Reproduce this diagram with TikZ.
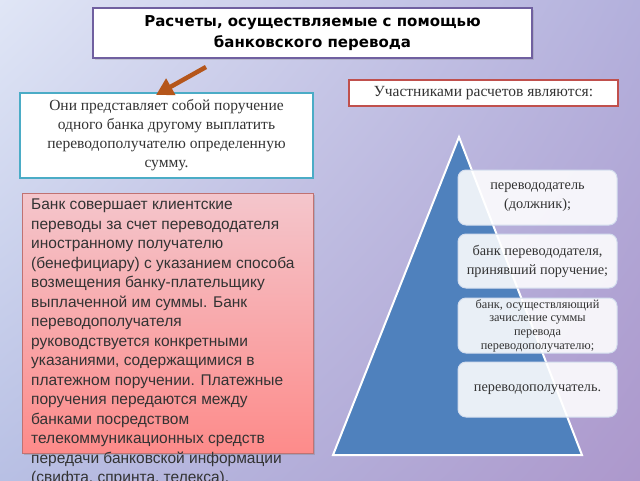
\documentclass[tikz,border=0pt]{standalone}
\usepackage{fontspec}
\setmainfont{Liberation Serif}
\newfontfamily\arialf{Liberation Sans}
\newfontfamily\titlef{DejaVu Sans}
\usetikzlibrary{arrows.meta,shadows,shadings}
\definecolor{bgTL}{HTML}{E0E6F6}
\definecolor{bgTR}{HTML}{B3B0DC}
\definecolor{bgBL}{HTML}{B8C0E4}
\definecolor{bgBR}{HTML}{AD98CC}
\definecolor{titleborder}{HTML}{7060A0}
\definecolor{cyanborder}{HTML}{4BACC6}
\definecolor{redborder}{HTML}{C0504D}
\definecolor{arrowcol}{HTML}{B5561B}
\definecolor{redtop}{HTML}{F4C6CC}
\definecolor{redbot}{HTML}{FD8B8A}
\definecolor{redframe}{HTML}{C07272}
\definecolor{triblue}{HTML}{4F81BD}
\definecolor{boxframe}{HTML}{D4DEEE}
\definecolor{txtgray}{HTML}{333333}
\tikzset{
  plainbox/.style={draw, fill=white, inner sep=0pt, align=center, line width=1.5pt},
  pyrbox/.style={draw=boxframe, line width=1pt, fill=white, fill opacity=0.88, text opacity=1,
    rounded corners=8pt, minimum width=159pt, inner sep=0pt, align=center, text=txtgray},
}
\begin{document}
\begin{tikzpicture}[x=1pt,y=-1pt]
\useasboundingbox (0,0) rectangle (640,480);
\shade[shading=bilinear interpolation, upper left=bgTL, upper right=bgTR, lower left=bgBL, lower right=bgBR] (0,0) rectangle (640,480);

% title
\node[plainbox, draw=titleborder, minimum width=439pt, minimum height=50pt,
      drop shadow={opacity=0.25, shadow xshift=1.5pt, shadow yshift=-1.5pt},
      font=\titlef\bfseries\fontsize{15}{21}\selectfont, text=black] (title) at (312.5,33)
  {Расчеты, осуществляемые с помощью\\банковского перевода};

% left definition box
\node[plainbox, draw=cyanborder, minimum width=293pt, minimum height=85pt,
      font=\fontsize{15.5}{19}\selectfont, text=txtgray] (lbox) at (166.5,135.5)
  {Они представляет собой поручение\\одного банка другому выплатить\\переводополучателю определенную\\сумму.};

% arrow
\coordinate (arrowstart) at (206,67);
\coordinate (arrowtip) at (156,95);
\draw[arrowcol, line width=4.5pt, -{Triangle[length=17pt,width=18pt]}] (arrowstart) -- (arrowtip);

% participants label
\node[plainbox, draw=redborder, minimum width=269pt, minimum height=26pt,
      font=\fontsize{15.5}{17}\selectfont, text=txtgray] (plabel) at (483.5,93)
  {Участниками расчетов являются:};

% red box
\node[draw=redframe, line width=0.8pt, top color=redtop, bottom color=redbot,
      minimum width=291pt, minimum height=260pt, inner sep=0pt,
      drop shadow={opacity=0.35, shadow xshift=2pt, shadow yshift=-2pt}] (redbox) at (167.5,323) {};
\node[anchor=north west, inner sep=0pt, align=left, text=txtgray,
      font=\arialf\fontsize{15.5}{19.5}\selectfont] (redtext) at (31,199)
  {Банк совершает клиентские\\
   переводы за счет перевододателя\\
   иностранному получателю\\
   (бенефициару) с указанием способа\\
   возмещения банку-плательщику\\
   выплаченной им суммы. Банк\\
   переводополучателя\\
   руководствуется конкретными\\
   указаниями, содержащимися в\\
   платежном поручении. Платежные\\
   поручения передаются между\\
   банками посредством\\
   телекоммуникационных средств\\
   передачи банковской информации\\
   (свифта, спринта, телекса).};

% pyramid
\coordinate (apex) at (459,137);
\coordinate (bright) at (582,455);
\coordinate (bleft) at (333,455);
\draw[white, line width=2pt, fill=triblue, line join=miter] (apex) -- (bright) -- (bleft) -- cycle;

\node[pyrbox, minimum height=55pt, font=\fontsize{14.3}{19}\selectfont] (p1) at (537.5,197.5)
  {перевододатель\\(должник);};
\node[pyrbox, minimum height=54pt, font=\fontsize{14.3}{19}\selectfont] (p2) at (537.5,261)
  {банк перевододателя,\\принявший поручение;};
\node[pyrbox, minimum height=55pt, font=\fontsize{12.3}{13.7}\selectfont] (p3) at (537.5,325.5)
  {банк, осуществляющий\\зачисление суммы\\перевода\\переводополучателю;};
\node[pyrbox, minimum height=55pt, font=\fontsize{14.3}{19}\selectfont] (p4) at (537.5,389.5)
  {переводополучатель.};
\end{tikzpicture}
\end{document}
